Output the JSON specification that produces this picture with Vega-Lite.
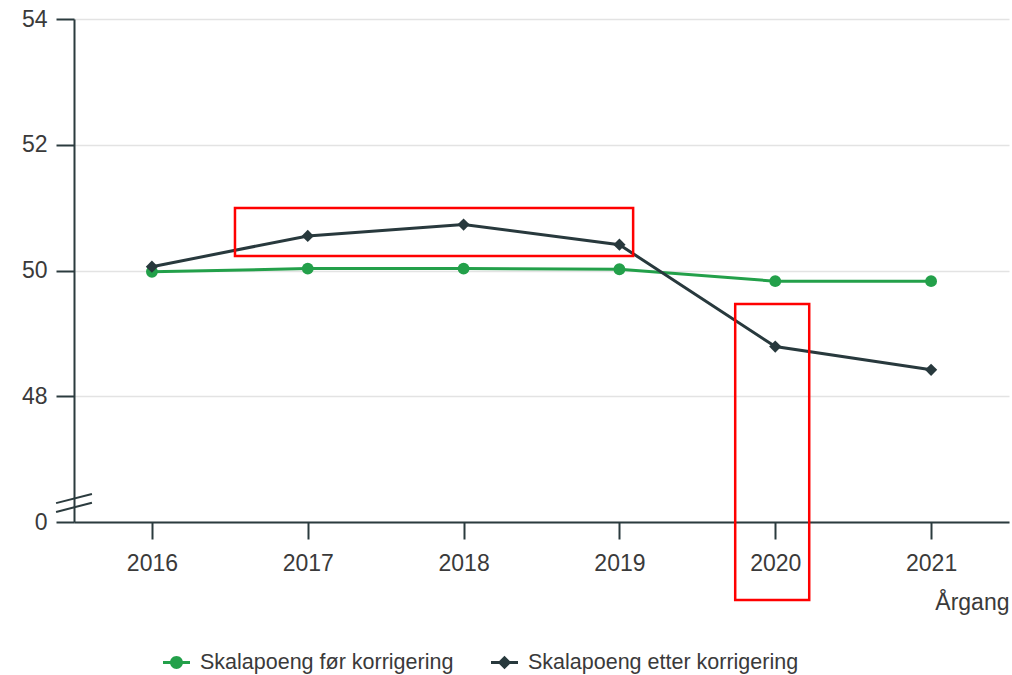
{
  "$schema": "https://vega.github.io/schema/vega-lite/v6.json",
  "width": 935,
  "height": 503,
  "autosize": {"type": "none"},
  "padding": {"left": 74, "top": 19, "right": 3, "bottom": 153},
  "background": "white",
  "config": {"view": {"stroke": null}, "font": "Liberation Sans"},
  "datasets": {
    "series": [
      {"year": 2016, "serie": "Skalapoeng før korrigering", "value": 49.98},
      {"year": 2017, "serie": "Skalapoeng før korrigering", "value": 50.03},
      {"year": 2018, "serie": "Skalapoeng før korrigering", "value": 50.03},
      {"year": 2019, "serie": "Skalapoeng før korrigering", "value": 50.02},
      {"year": 2020, "serie": "Skalapoeng før korrigering", "value": 49.83},
      {"year": 2021, "serie": "Skalapoeng før korrigering", "value": 49.83},
      {"year": 2016, "serie": "Skalapoeng etter korrigering", "value": 50.06},
      {"year": 2017, "serie": "Skalapoeng etter korrigering", "value": 50.55},
      {"year": 2018, "serie": "Skalapoeng etter korrigering", "value": 50.73},
      {"year": 2019, "serie": "Skalapoeng etter korrigering", "value": 50.41},
      {"year": 2020, "serie": "Skalapoeng etter korrigering", "value": 48.79},
      {"year": 2021, "serie": "Skalapoeng etter korrigering", "value": 48.42}
    ],
    "highlights": [
      {"x": 2016.533, "x2": 2019.088, "y": 50.996, "y2": 50.232},
      {"x": 2019.743, "x2": 2020.218, "y": 49.469, "y2": 44.759}
    ],
    "breaks": [
      {"x": 2015.385, "x2": 2015.615, "y": 46.30, "y2": 46.445},
      {"x": 2015.385, "x2": 2015.615, "y": 46.16, "y2": 46.305}
    ]
  },
  "layer": [
    {
      "data": {"name": "series"},
      "transform": [{"filter": "datum.serie == 'Skalapoeng før korrigering'"}],
      "mark": {"type": "line", "strokeWidth": 3, "color": "#23a04a"},
      "encoding": {
        "x": {
          "field": "year", "type": "quantitative",
          "scale": {"domain": [2015.5, 2021.5], "nice": false, "zero": false},
          "axis": {
            "values": [2016, 2017, 2018, 2019, 2020, 2021], "format": "d",
            "grid": false, "labelFontSize": 23, "labelColor": "#3a3a3a",
            "tickSize": 17, "tickWidth": 2, "tickColor": "#2b3b3e",
            "domainColor": "#2b3b3e", "domainWidth": 2, "labelPadding": 13,
            "title": "Årgang", "titleAnchor": "end", "titleFontSize": 23,
            "titleFontWeight": "normal", "titleColor": "#3a3a3a", "titlePadding": 16
          }
        },
        "y": {
          "field": "value", "type": "quantitative",
          "scale": {"domain": [46, 54], "nice": false, "zero": false},
          "axis": {
            "values": [46, 48, 50, 52, 54], "format": "d",
            "labelExpr": "datum.value == 46 ? '0' : datum.label",
            "grid": true, "gridColor": "#e3e3e3", "gridWidth": 1.5,
            "labelFontSize": 23, "labelColor": "#3a3a3a",
            "tickSize": 18, "tickWidth": 2, "tickColor": "#2b3b3e",
            "domainColor": "#2b3b3e", "domainWidth": 2, "labelPadding": 9,
            "title": null
          }
        }
      }
    },
    {
      "data": {"name": "series"},
      "transform": [{"filter": "datum.serie == 'Skalapoeng etter korrigering'"}],
      "mark": {"type": "line", "strokeWidth": 3, "color": "#28393d"},
      "encoding": {
        "x": {"field": "year", "type": "quantitative"},
        "y": {"field": "value", "type": "quantitative"}
      }
    },
    {
      "data": {"name": "series"},
      "transform": [{"filter": "datum.serie == 'Skalapoeng før korrigering'"}],
      "mark": {"type": "point", "filled": true, "opacity": 1, "shape": "circle", "size": 140, "color": "#23a04a"},
      "encoding": {
        "x": {"field": "year", "type": "quantitative"},
        "y": {"field": "value", "type": "quantitative"}
      }
    },
    {
      "data": {"name": "series"},
      "transform": [{"filter": "datum.serie == 'Skalapoeng etter korrigering'"}],
      "mark": {"type": "point", "filled": true, "opacity": 1, "shape": "diamond", "size": 150, "color": "#28393d"},
      "encoding": {
        "x": {"field": "year", "type": "quantitative"},
        "y": {"field": "value", "type": "quantitative"}
      }
    },
    {
      "data": {"name": "series"},
      "transform": [{"filter": "false"}],
      "mark": {"type": "point", "filled": true, "opacity": 1, "size": 729},
      "encoding": {
        "x": {"field": "year", "type": "quantitative"},
        "y": {"field": "value", "type": "quantitative"},
        "color": {
          "field": "serie", "type": "nominal",
          "scale": {
            "domain": ["Skalapoeng før korrigering", "Skalapoeng etter korrigering"],
            "range": ["#23a04a", "#28393d"]
          },
          "legend": {
            "title": null, "orient": "none", "direction": "horizontal",
            "legendX": 89, "legendY": 630,
            "labelFontSize": 21.5, "labelColor": "#3a3a3a", "labelLimit": 500,
            "symbolSize": 729, "labelOffset": 10, "columnPadding": 37,
            "symbolStrokeWidth": 0
          }
        },
        "shape": {
          "field": "serie", "type": "nominal",
          "scale": {
            "domain": ["Skalapoeng før korrigering", "Skalapoeng etter korrigering"],
            "range": [
              "M-1,-0.11H1V0.11H-1Z M0.48,0A0.48,0.48 0 1 1 -0.48,0A0.48,0.48 0 1 1 0.48,0Z",
              "M-1,-0.11H1V0.11H-1Z M0,-0.5L0.5,0L0,0.5L-0.5,0Z"
            ]
          }
        }
      }
    },
    {
      "data": {"name": "highlights"},
      "mark": {"type": "rect", "fillOpacity": 0, "stroke": "#ff0000", "strokeWidth": 2.5, "clip": false},
      "encoding": {
        "x": {"field": "x", "type": "quantitative"},
        "x2": {"field": "x2"},
        "y": {"field": "y", "type": "quantitative"},
        "y2": {"field": "y2"}
      }
    },
    {
      "data": {"name": "breaks"},
      "mark": {"type": "rule", "stroke": "#2b3b3e", "strokeWidth": 2, "clip": false},
      "encoding": {
        "x": {"field": "x", "type": "quantitative"},
        "x2": {"field": "x2"},
        "y": {"field": "y", "type": "quantitative"},
        "y2": {"field": "y2"}
      }
    }
  ]
}
